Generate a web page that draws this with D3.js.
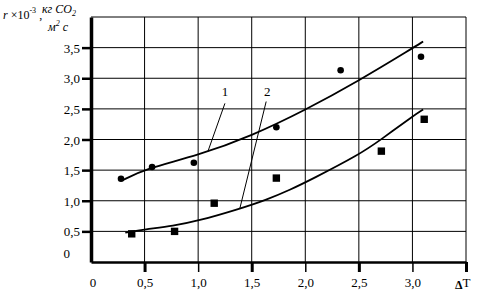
<!DOCTYPE html>
<html>
<head>
<meta charset="utf-8">
<script src="https://cdn.jsdelivr.net/npm/d3@7"></script>
<style>
body { margin: 0; background: white; }
text { font-family: "Liberation Serif", serif; fill: black; }
</style>
</head>
<body>
<div id="chart"></div>
<script>
// measured points, series 1 (circles) and 2 (squares)
var circleX = [0.28, 0.57, 0.96, 1.73, 2.33, 3.08];
var circleY = [1.36, 1.55, 1.62, 2.20, 3.13, 3.35];
var squareX = [0.38, 0.78, 1.15, 1.73, 2.71, 3.11];
var squareY = [0.46, 0.50, 0.96, 1.37, 1.81, 2.33];

// fitted curves
var curve1X = [0.29, 0.5, 1.0, 1.5, 2.0, 2.5, 3.0, 3.1];
var curve1Y = [1.33, 1.52, 1.74, 2.06, 2.48, 2.96, 3.49, 3.6];
var curve2X = [0.32, 0.5, 0.77, 1.0, 1.39, 1.63, 1.86, 2.06, 2.51, 2.70, 3.01, 3.1];
var curve2Y = [0.48, 0.53, 0.59, 0.67, 0.87, 1.01, 1.18, 1.35, 1.76, 1.99, 2.39, 2.49];

var xTicks = [0.5, 1.0, 1.5, 2.0, 2.5, 3.0, 3.5];
var yTicks = [0.5, 1.0, 1.5, 2.0, 2.5, 3.0, 3.5];
var gridY = [0.5, 1.0, 1.5, 2.0, 2.5, 3.0, 3.5, 4.0];

var width = 480, height = 295;

var x = d3.scaleLinear().domain([0, 3.5]).range([91, 466]);
var y = d3.scaleLinear().domain([0, 4]).range([262, 17]);
var fmt = function(d) { return d3.format(".1f")(d).replace(".", ","); };

var svg = d3.select("#chart").append("svg")
    .attr("width", width)
    .attr("height", height);

// grid
svg.selectAll(".gv").data(xTicks).enter().append("line")
    .attr("x1", function(d) { return x(d); }).attr("x2", function(d) { return x(d); })
    .attr("y1", y(0)).attr("y2", y(4))
    .attr("stroke", "black").attr("stroke-width", 1);
svg.selectAll(".gh").data(gridY).enter().append("line")
    .attr("x1", x(0)).attr("x2", x(3.5))
    .attr("y1", function(d) { return y(d); }).attr("y2", function(d) { return y(d); })
    .attr("stroke", "black").attr("stroke-width", 1);

// axes
var yAxis = d3.axisLeft(y).tickValues(yTicks).tickFormat(fmt).tickSizeInner(9).tickSizeOuter(0).tickPadding(2);
var gy = svg.append("g").attr("transform", "translate(" + x(0) + ",0)").call(yAxis);
gy.attr("font-family", "Liberation Serif");
gy.select(".domain").attr("stroke-width", 3.5);
gy.selectAll(".tick line").attr("stroke-width", 2.5);
gy.selectAll(".tick text").attr("font-size", 13).attr("dy", "0.35em");

var xAxis = d3.axisBottom(x).tickValues(xTicks)
    .tickFormat(function(d) { return d == 3.5 ? "" : fmt(d); })
    .tickSizeInner(10).tickSizeOuter(0);
var gx = svg.append("g").attr("transform", "translate(0," + y(0) + ")").call(xAxis);
gx.attr("font-family", "Liberation Serif");
gx.select(".domain").attr("stroke-width", 2.5);
gx.selectAll(".tick line").attr("stroke-width", function(d, i) { return i % 2 == 0 ? 3 : 1.5; });
gx.selectAll(".tick text").attr("font-size", 13).attr("y", 25).attr("dy", 0);

// zero labels
svg.append("text").attr("x", x(0) + 2).attr("y", 287).attr("text-anchor", "middle")
    .attr("font-size", 13).text("0");
svg.append("text").attr("x", 70).attr("y", 258).attr("text-anchor", "end")
    .attr("font-size", 13).text("0");

// curves
var line = d3.line().curve(d3.curveBasis)
    .x(function(d) { return x(d[0]); })
    .y(function(d) { return y(d[1]); });
svg.append("path").attr("d", line(d3.zip(curve1X, curve1Y)))
    .attr("fill", "none").attr("stroke", "black").attr("stroke-width", 1.8);
svg.append("path").attr("d", line(d3.zip(curve2X, curve2Y)))
    .attr("fill", "none").attr("stroke", "black").attr("stroke-width", 1.8);

// markers
svg.selectAll(".dot").data(d3.zip(circleX, circleY)).enter().append("circle")
    .attr("cx", function(d) { return x(d[0]); })
    .attr("cy", function(d) { return y(d[1]); })
    .attr("r", 3.3).attr("fill", "black");
svg.selectAll(".sq").data(d3.zip(squareX, squareY)).enter().append("rect")
    .attr("x", function(d) { return x(d[0]) - 3.7; })
    .attr("y", function(d) { return y(d[1]) - 3.7; })
    .attr("width", 7.4).attr("height", 7.4).attr("fill", "black");

// curve labels with leader lines
svg.append("line").attr("x1", x(1.25)).attr("y1", y(2.59)).attr("x2", x(1.09)).attr("y2", y(1.80))
    .attr("stroke", "black").attr("stroke-width", 1);
svg.append("line").attr("x1", x(1.635)).attr("y1", y(2.62)).attr("x2", x(1.39)).attr("y2", y(0.88))
    .attr("stroke", "black").attr("stroke-width", 1);
svg.append("text").attr("x", x(1.25)).attr("y", 96).attr("text-anchor", "middle").attr("font-size", 13).text("1");
svg.append("text").attr("x", x(1.645)).attr("y", 96).attr("text-anchor", "middle").attr("font-size", 13).text("2");

// axis titles
var t = svg.append("text").attr("x", 3).attr("y", 19).attr("font-size", 12);
t.append("tspan").attr("font-style", "italic").text("r");
t.append("tspan").text(" ×10");
t.append("tspan").attr("font-size", 8).attr("dy", -6).text("-3");
t.append("tspan").attr("dy", 6).text(" ,");

var num = svg.append("text").attr("x", 42).attr("y", 13).attr("font-size", 12).attr("font-style", "italic");
num.append("tspan").text("кг CO");
num.append("tspan").attr("font-size", 8).attr("dy", 3).text("2");

var den = svg.append("text").attr("x", 48).attr("y", 31).attr("font-size", 12).attr("font-style", "italic");
den.append("tspan").text("м");
den.append("tspan").attr("font-size", 8).attr("dy", -5).text("2");
den.append("tspan").attr("dy", 5).text(" с");

var dt = svg.append("text").attr("x", 455).attr("y", 289).attr("font-size", 13);
dt.append("tspan").attr("font-weight", "bold").attr("font-size", 12).text("Δ");
dt.append("tspan").attr("dy", -2).text("T");
</script>
</body>
</html>
